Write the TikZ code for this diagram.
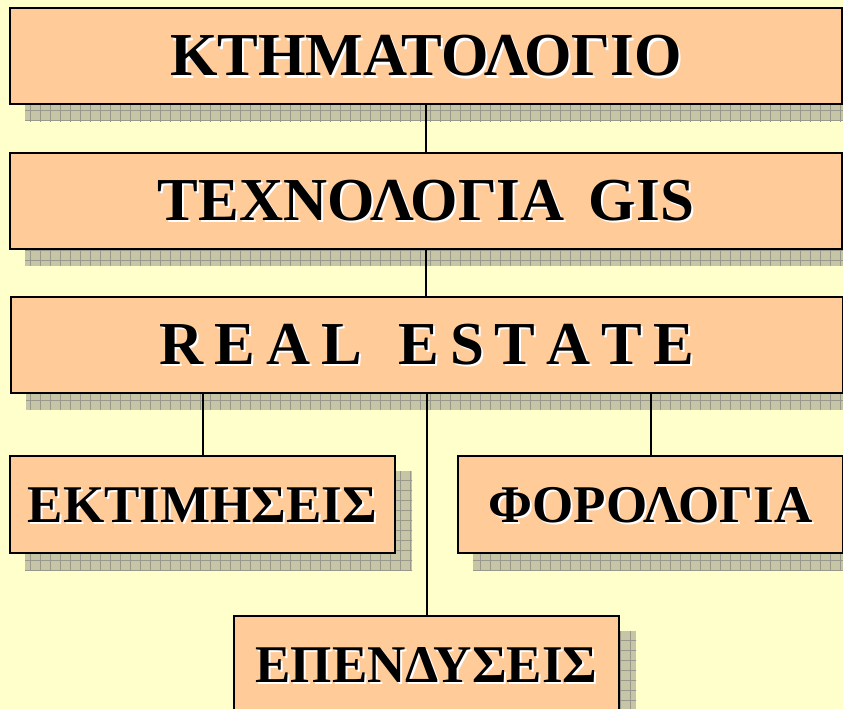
\documentclass[tikz,border=0pt]{standalone}
\usepackage{fontspec}
\setmainfont{Liberation Serif}
\usetikzlibrary{backgrounds}
\definecolor{pagebg}{HTML}{FFFFCC}
\definecolor{boxfill}{HTML}{FFCC99}
\definecolor{shadowfill}{HTML}{C6C6A6}
\definecolor{shadowgrid}{HTML}{98988C}
\newcommand{\shtext}[1]{\makebox[0pt][l]{\hspace{2pt}\raisebox{-2pt}{\color{white}#1}}#1}
\newcommand{\ls}{\hspace{11pt}}
\tikzset{
  box/.style={draw=black, line width=2pt, fill=boxfill, rectangle, inner sep=0pt, text depth=0pt},
  bigbox/.style={box, minimum width=832pt, minimum height=96pt, text height=40pt,
    font=\fontsize{61}{61}\selectfont\bfseries},
  smallbox/.style={box, minimum width=385pt, minimum height=97pt, text height=35pt,
    font=\fontsize{53}{53}\selectfont\bfseries},
  link/.style={draw=black, line width=2pt}
}
\newcommand{\boxshadow}[1]{%
  \begin{scope}
    \clip ([shift={(16pt,-16pt)}]#1.south west) rectangle ([shift={(16pt,-16pt)}]#1.north east);
    \fill[shadowfill] ([shift={(16pt,-16pt)}]#1.south west) rectangle ([shift={(16pt,-16pt)}]#1.north east);
    \draw[shadowgrid, line width=0.8pt, step=10pt] (0pt,-720pt) grid (860pt,0pt);
  \end{scope}}
\begin{document}
\begin{tikzpicture}[x=1pt, y=-1pt]
\useasboundingbox (0,0) rectangle (843,709);
\node[bigbox] (ktima) at (426,56) {\shtext{ΚΤΗΜΑΤΟΛΟΓΙΟ}};
\node[bigbox] (gis) at (426,200.5) {\shtext{ΤΕΧΝΟΛΟΓΙΑ\hspace{0.15em} GIS}};
\node[bigbox] (real) at (427,344.5) {\shtext{R\ls E\ls A\ls L\hspace{36pt}E\ls S\ls T\ls A\ls T\ls E}};
\node[smallbox] (ektim) at (202.5,504.5) {\shtext{ΕΚΤΙΜΗΣΕΙΣ}};
\node[smallbox] (forol) at (650.5,504.5) {\shtext{ΦΟΡΟΛΟΓΙΑ}};
\node[smallbox] (epend) at (426.5,664.5) {\shtext{ΕΠΕΝΔΥΣΕΙΣ}};
\begin{scope}[on background layer]
  \fill[pagebg] (0,0) rectangle (843,709);
  \boxshadow{ktima}
  \boxshadow{gis}
  \boxshadow{real}
  \boxshadow{ektim}
  \boxshadow{forol}
  \boxshadow{epend}
\end{scope}
\draw[link] (ktima.south) -- (gis.north);
\draw[link] (gis.south) -- (gis.south |- real.north);
\draw[link] (epend.north |- real.south) -- (epend.north);
\draw[link] (ektim.north |- real.south) -- (ektim.north);
\draw[link] (forol.north |- real.south) -- (forol.north);
\end{tikzpicture}
\end{document}
